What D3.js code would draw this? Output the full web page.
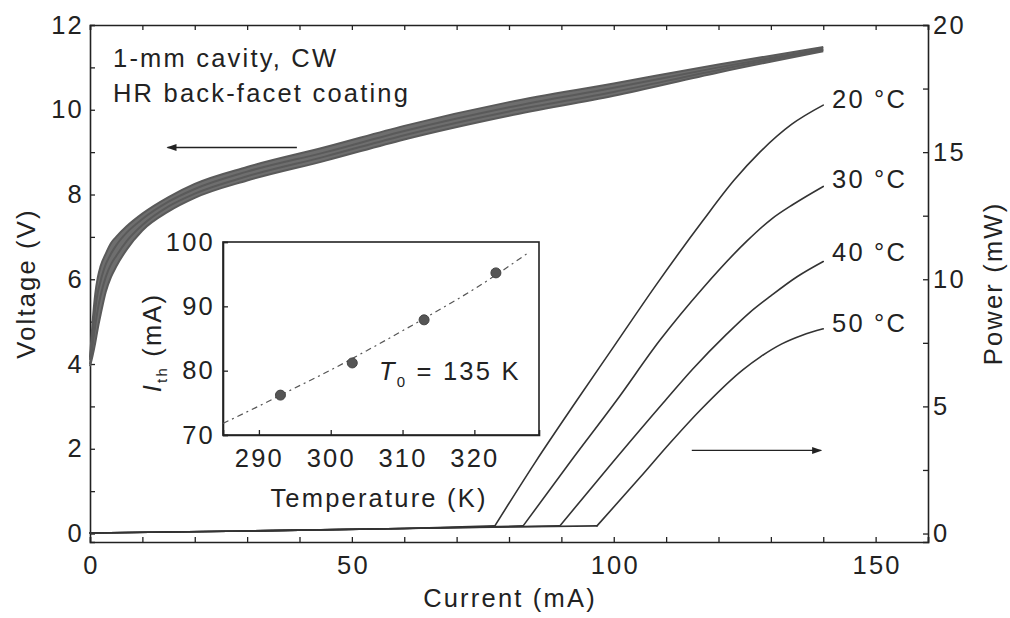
<!DOCTYPE html>
<html>
<head>
<meta charset="utf-8">
<script src="https://cdn.jsdelivr.net/npm/d3@7"></script>
<style>
  html, body { margin: 0; padding: 0; background: #fff; }
  svg text { font-family: "Liberation Sans", Arial, sans-serif; letter-spacing: 2.2px; fill: #222; }
</style>
</head>
<body>
<svg id="chart" width="1010" height="618"></svg>
<script>
// ---------- DATA ----------
// Voltage–current curves (four temperatures, drawn as a band)
const currentV  = [0, 0.5, 1, 1.5, 2, 3, 4, 5, 7, 10, 15, 20, 30, 45, 60, 80, 100, 120, 140];
const voltage20 = [4.15, 5.0, 5.65, 6.05, 6.3, 6.6, 6.85, 7.0, 7.25, 7.55, 7.94, 8.25, 8.65, 9.12, 9.62, 10.18, 10.62, 11.07, 11.48];
const voltage30 = [4.1, 4.7, 5.3, 5.7, 5.95, 6.35, 6.6, 6.8, 7.1, 7.42, 7.83, 8.13, 8.54, 9.0, 9.5, 10.06, 10.52, 11.0, 11.44];
const voltage40 = [4.0, 4.45, 4.9, 5.3, 5.6, 6.05, 6.35, 6.55, 6.9, 7.28, 7.72, 8.02, 8.43, 8.9, 9.4, 9.96, 10.42, 10.94, 11.41];
const voltage50 = [3.95, 4.2, 4.5, 4.85, 5.15, 5.7, 6.05, 6.3, 6.7, 7.15, 7.6, 7.92, 8.33, 8.8, 9.3, 9.86, 10.33, 10.88, 11.38];

// Light output power curves (index 3 = lasing threshold)
const current20 = [0, 30, 60, 77.3, 85, 93, 100, 108, 117, 123, 127.9, 134, 140];
const power20   = [0.02, 0.1, 0.2, 0.3, 2.8, 5.25, 7.35, 9.75, 12.3, 13.9, 15.0, 16.1, 16.85];
const current30 = [0, 30, 60, 82.7, 92, 100.6, 108.8, 117, 125.4, 130, 134.3, 140];
const power30   = [0.02, 0.1, 0.2, 0.3, 2.9, 5.25, 7.6, 9.65, 11.5, 12.35, 12.95, 13.65];
const current40 = [0, 30, 60, 89.7, 100, 109.5, 115, 121.6, 126, 130, 135, 140];
const power40   = [0.02, 0.1, 0.2, 0.3, 2.85, 5.15, 6.45, 7.85, 8.7, 9.35, 10.1, 10.7];
const current50 = [0, 30, 60, 96.8, 105, 110.7, 116.5, 124.7, 128, 132, 136, 140];
const power50   = [0.02, 0.1, 0.2, 0.3, 2.2, 3.55, 4.85, 6.45, 6.95, 7.45, 7.8, 8.05];
const tempLabels = ["20 °C", "30 °C", "40 °C", "50 °C"];

// Inset: threshold current vs temperature
const insetTemp = [293, 303, 313, 323];
const insetIth  = [76.2, 81.2, 87.9, 95.2];
const fitTemp = [285, 290, 295, 300, 305, 310, 315, 320, 327.6];
const fitIth  = [71.8, 74.5, 77.3, 80.1, 83.1, 86.2, 89.4, 92.7, 98.4];

// Tick values
const xTicks = [0,10,20,30,40,50,60,70,80,90,100,110,120,130,140,150,160];
const xLabels = [0, 50, 100, 150];
const vTicks = [0,1,2,3,4,5,6,7,8,9,10,11,12];
const vLabels = [0, 2, 4, 6, 8, 10, 12];
const pTicks = [0, 2.5, 5, 7.5, 10, 12.5, 15, 17.5, 20];
const pLabels = [0, 5, 10, 15, 20];
const insetXTicks = [290, 300, 310, 320];
const insetYTicks = [70, 80, 90, 100];

// ---------- LAYOUT ----------
const svg = d3.select("#chart");
const FS = 25.5;
const L = 90, R = 928, T = 25, B = 542;
const x  = d3.scaleLinear().domain([0, 160]).range([L, R]);
const yV = d3.scaleLinear().domain([-0.2, 12]).range([B, T]);
const yP = d3.scaleLinear().domain([-1/3, 20]).range([B, T]);

const axisColor = "#222";
function styleAxis(g) {
  g.select(".domain").attr("stroke", axisColor).attr("stroke-width", 1.6);
  g.selectAll(".tick line").attr("stroke", axisColor).attr("stroke-width", 1.3);
  g.selectAll(".tick text").attr("font-size", FS).attr("fill", "#222")
    .attr("font-family", "Liberation Sans, Arial, sans-serif");
}
const fmt = labels => d => labels.includes(d) ? String(d) : "";

// ---------- MAIN AXES ----------
svg.append("g").attr("transform", `translate(1,${B})`)
  .call(d3.axisBottom(x).tickValues(xTicks).tickSize(-5).tickPadding(14).tickFormat(fmt(xLabels)))
  .call(styleAxis)
  .call(g => g.select(".domain").attr("transform", "translate(-1,0)"))
  .call(g => g.selectAll(".tick line").attr("transform", "translate(-1,0)"));
svg.append("g").attr("transform", `translate(0,${T})`)
  .call(d3.axisTop(x).tickValues(xTicks).tickSize(-5).tickFormat(""))
  .call(styleAxis);
svg.append("g").attr("transform", `translate(${L},0)`)
  .call(d3.axisLeft(yV).tickValues(vTicks).tickSize(-5).tickPadding(6).tickFormat(fmt(vLabels)))
  .call(styleAxis);
svg.append("g").attr("transform", `translate(${R},0)`)
  .call(d3.axisRight(yP).tickValues(pTicks).tickSize(-5).tickPadding(5).tickFormat(fmt(pLabels)))
  .call(styleAxis);

// ---------- CURVES ----------
const vArea = d3.area().x(d => x(d[0])).y0(d => yV(d[2])).y1(d => yV(d[1])).curve(d3.curveMonotoneX);
svg.append("path").datum(currentV.map((c, i) => [c, voltage20[i], voltage50[i]]))
  .attr("d", vArea).attr("fill", "#6e6e6e").attr("stroke", "none");
const vLine = d3.line().x(d => x(d[0])).y(d => yV(d[1])).curve(d3.curveMonotoneX);
[voltage20, voltage30, voltage40, voltage50].forEach(vs => {
  svg.append("path").datum(currentV.map((c, i) => [c, vs[i]]))
    .attr("d", vLine).attr("fill", "none").attr("stroke", "#5a5a5a").attr("stroke-width", 2);
});

// power: straight below threshold, smooth above it
const pLin = d3.line().x(d => x(d[0])).y(d => yP(d[1])).curve(d3.curveLinear);
const pSmooth = d3.line().x(d => x(d[0])).y(d => yP(d[1])).curve(d3.curveMonotoneX);
const powerSets = [[current20, power20], [current30, power30], [current40, power40], [current50, power50]];
const TH = 3;
powerSets.forEach(([cs, ps]) => {
  const pts = cs.map((c, i) => [c, ps[i]]);
  const g = svg.append("g").attr("fill", "none").attr("stroke", "#333").attr("stroke-width", 1.6)
    .attr("stroke-linejoin", "round").attr("stroke-linecap", "round");
  g.append("path").datum(pts.slice(0, TH + 1)).attr("d", pLin);
  g.append("path").datum(pts.slice(TH)).attr("d", pSmooth);
});

const labelY = [108, 188, 261, 332];
tempLabels.forEach((t, i) => {
  svg.append("text").attr("x", 832).attr("y", labelY[i]).attr("font-size", FS).text(t);
});

// ---------- ARROWS ----------
const defs = svg.append("defs");
defs.append("marker").attr("id", "ah").attr("viewBox", "0 0 10 10")
  .attr("refX", 9).attr("refY", 5).attr("markerWidth", 14).attr("markerHeight", 10)
  .attr("markerUnits", "userSpaceOnUse").attr("orient", "auto")
  .append("path").attr("d", "M0,1.5 L10,5 L0,8.5 Z").attr("fill", "#222");
svg.append("line").attr("x1", x(39.5)).attr("y1", yV(9.11)).attr("x2", x(14.8)).attr("y2", yV(9.11))
  .attr("stroke", "#222").attr("stroke-width", 1.4).attr("marker-end", "url(#ah)");
svg.append("line").attr("x1", x(114.9)).attr("y1", yP(3.27)).attr("x2", x(139.6)).attr("y2", yP(3.27))
  .attr("stroke", "#222").attr("stroke-width", 1.4).attr("marker-end", "url(#ah)");

// ---------- ANNOTATION TEXT ----------
svg.append("text").attr("x", 113).attr("y", 67).attr("font-size", FS).text("1-mm cavity, CW");
svg.append("text").attr("x", 113).attr("y", 102).attr("font-size", FS).text("HR back-facet coating");

svg.append("text").attr("transform", `translate(35,${(T + B) / 2}) rotate(-90)`)
  .attr("text-anchor", "middle").attr("font-size", FS).text("Voltage (V)");
svg.append("text").attr("transform", `translate(1002,${(T + B) / 2}) rotate(-90)`)
  .attr("text-anchor", "middle").attr("font-size", FS).text("Power (mW)");
svg.append("text").attr("x", (L + R) / 2 + 1).attr("y", 607)
  .attr("text-anchor", "middle").attr("font-size", FS).text("Current (mA)");

// ---------- INSET ----------
const iL = 223, iR = 539, iT = 242, iB = 435;
const ix = d3.scaleLinear().domain([285, 329]).range([iL, iR]);
const iy = d3.scaleLinear().domain([70, 100]).range([iB, iT]);

svg.append("rect").attr("x", iL).attr("y", iT).attr("width", iR - iL).attr("height", iB - iT)
  .attr("fill", "#fff").attr("stroke", axisColor).attr("stroke-width", 1.6);
svg.append("g").attr("transform", `translate(0,${iB})`)
  .call(d3.axisBottom(ix).tickValues(insetXTicks).tickSize(-5).tickPadding(14).tickFormat(d3.format("d")))
  .call(styleAxis);
svg.append("g").attr("transform", `translate(${iL},0)`)
  .call(d3.axisLeft(iy).tickValues(insetYTicks).tickSize(-5).tickPadding(8).tickFormat(d3.format("d")))
  .call(styleAxis);

const fitLine = d3.line().x(d => ix(d[0])).y(d => iy(d[1])).curve(d3.curveMonotoneX);
svg.append("path").datum(fitTemp.map((t, i) => [t, fitIth[i]]))
  .attr("d", fitLine).attr("fill", "none").attr("stroke", "#555").attr("stroke-width", 1.2)
  .attr("stroke-dasharray", "6,4,2,4");
svg.selectAll(".ipt").data(insetTemp.map((t, i) => [t, insetIth[i]])).enter()
  .append("circle").attr("cx", d => ix(d[0])).attr("cy", d => iy(d[1])).attr("r", 5)
  .attr("fill", "#555").attr("stroke", "#444").attr("stroke-width", 1);

svg.append("text").attr("x", (iL + iR) / 2 - 2).attr("y", 507)
  .attr("text-anchor", "middle").attr("font-size", FS).text("Temperature (K)");
const ylab = svg.append("text").attr("transform", `translate(161,${(iT + iB) / 2 + 4}) rotate(-90)`)
  .attr("text-anchor", "middle").attr("font-size", FS);
ylab.append("tspan").attr("font-style", "italic").text("I");
ylab.append("tspan").attr("font-size", 15).attr("dy", 6).text("th");
ylab.append("tspan").attr("dy", -6).text(" (mA)");

const t0 = svg.append("text").attr("x", 379).attr("y", 380).attr("font-size", FS);
t0.append("tspan").attr("font-style", "italic").text("T");
t0.append("tspan").attr("font-size", 15).attr("dy", 7).text("0");
t0.append("tspan").attr("dy", -7).text(" = 135 K");
</script>
</body>
</html>
